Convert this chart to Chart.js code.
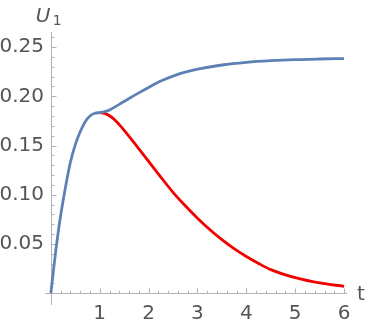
<!DOCTYPE html>
<html>
<head>
<meta charset="utf-8">
<script src="https://cdn.jsdelivr.net/npm/chart.js@4.4.1/dist/chart.umd.min.js"></script>
<style>
  html, body { margin: 0; padding: 0; background: #ffffff; }
  #wrap { position: relative; width: 366px; height: 326px; }
</style>
</head>
<body>
<div id="wrap"><canvas id="c" width="366" height="326"></canvas></div>
<script>
// ---- data ----
const blueT = [0, 0.05, 0.1, 0.15, 0.2, 0.3, 0.4, 0.5, 0.6, 0.7, 0.8, 0.9, 1.0, 1.1, 1.2, 1.4, 1.6, 1.8, 2.0, 2.25, 2.5, 2.75, 3.0, 3.5, 4.0, 4.5, 5.0, 5.5, 6.0];
const blueV = [0, 0.022, 0.043, 0.062, 0.079, 0.108, 0.133, 0.151, 0.164, 0.174, 0.180, 0.1828, 0.1835, 0.1845, 0.1862, 0.1918, 0.1978, 0.2035, 0.209, 0.2155, 0.2205, 0.2245, 0.2275, 0.2318, 0.2345, 0.2362, 0.2373, 0.2379, 0.2383];
const redT = [1.0, 1.1, 1.2, 1.3, 1.4, 1.5, 1.75, 2.0, 2.25, 2.5, 2.75, 3.0, 3.25, 3.5, 3.75, 4.0, 4.25, 4.5, 5.0, 5.5, 6.0];
const redV = [0.1835, 0.1827, 0.1803, 0.1765, 0.1712, 0.1655, 0.150, 0.134, 0.118, 0.1025, 0.0888, 0.0763, 0.0648, 0.0545, 0.0453, 0.0373, 0.0303, 0.0240, 0.0158, 0.0105, 0.0071];
const xTickValues = [1, 2, 3, 4, 5, 6];
const xTickLabels = ['1', '2', '3', '4', '5', '6'];
const yTickValues = [0.05, 0.10, 0.15, 0.20, 0.25];
const yTickLabels = ['0.05', '0.10', '0.15', '0.20', '0.25'];
const xLabel = 't';
const yLabel = 'U';
const yLabelSub = '1';

const toPts = (ts, vs) => ts.map((t, i) => ({ x: t, y: vs[i] }));

const AXIS_COLOR = '#b3b3b3';
const TEXT_COLOR = '#555555';
const FONT = 'DejaVu Sans';

const mmaAxes = {
  id: 'mmaAxes',
  beforeDatasetsDraw(chart) {
    const ctx = chart.ctx, xs = chart.scales.x, ys = chart.scales.y, a = chart.chartArea;
    const x0 = Math.round(xs.getPixelForValue(0)) + 0.5, y0 = Math.round(ys.getPixelForValue(0)) + 0.5;
    ctx.save();
    ctx.strokeStyle = AXIS_COLOR;
    ctx.lineWidth = 1;
    ctx.beginPath();
    ctx.moveTo(a.left, y0); ctx.lineTo(a.right, y0);
    ctx.moveTo(x0, a.top); ctx.lineTo(x0, a.bottom);
    // x ticks every 0.2, major at integers
    for (let k = 1; k <= 30; k++) {
      const v = k * 0.2;
      const px = Math.round(xs.getPixelForValue(v)) + 0.5;
      const len = (k % 5 === 0) ? 5 : 3;
      ctx.moveTo(px, y0); ctx.lineTo(px, y0 - len);
    }
    // y ticks every 0.01, major every 0.05
    for (let k = 1; k <= 26; k++) {
      const v = k * 0.01;
      const py = Math.round(ys.getPixelForValue(v)) + 0.5;
      const len = (k % 5 === 0) ? 5 : 3;
      ctx.moveTo(x0, py); ctx.lineTo(x0 + len, py);
    }
    ctx.stroke();
    ctx.restore();
  },
  afterDraw(chart) {
    const ctx = chart.ctx, xs = chart.scales.x, ys = chart.scales.y, a = chart.chartArea;
    const x0 = xs.getPixelForValue(0), y0 = ys.getPixelForValue(0);
    ctx.save();
    ctx.fillStyle = TEXT_COLOR;
    ctx.textBaseline = 'alphabetic';
    ctx.textAlign = 'left';
    ctx.font = 'italic 20px "' + FONT + '"';
    ctx.fillText(yLabel, x0 - 15, a.top - 10);
    ctx.font = '14px "' + FONT + '"';
    ctx.fillText(yLabelSub, x0 + 2, a.top - 7);
    ctx.font = '20px "' + FONT + '"';
    ctx.fillText(xLabel, a.right + 10, y0 + 7);
    ctx.restore();
  }
};

new Chart(document.getElementById('c'), {
  type: 'scatter',
  data: {
    datasets: [
      { data: toPts(blueT, blueV), showLine: true, borderColor: '#5E81B5', borderWidth: 2.8,
        pointRadius: 0, cubicInterpolationMode: 'monotone', fill: false },
      { data: toPts(redT, redV), showLine: true, borderColor: '#F20000', borderWidth: 2.8,
        pointRadius: 0, cubicInterpolationMode: 'monotone', fill: false }
    ]
  },
  plugins: [mmaAxes],
  options: {
    responsive: false,
    animation: false,
    devicePixelRatio: 1,
    layout: { padding: { top: 32, right: 19, left: 0, bottom: 0 } },
    plugins: { legend: { display: false }, tooltip: { enabled: false } },
    scales: {
      x: {
        type: 'linear', position: 'bottom', min: -0.12, max: 6.06,
        grid: { display: false, drawTicks: false }, border: { display: false },
        afterBuildTicks: s => { s.ticks = xTickValues.map(v => ({ value: v })); },
        afterFit: s => { s.height = 21; },
        ticks: {
          padding: -3, color: TEXT_COLOR, font: { family: FONT, size: 20 }, maxRotation: 0, autoSkip: false,
          callback: (v) => { const i = xTickValues.indexOf(v); return i >= 0 ? xTickLabels[i] : ''; }
        }
      },
      y: {
        type: 'linear', position: 'left', min: -0.0119, max: 0.2653,
        grid: { display: false, drawTicks: false }, border: { display: false },
        afterBuildTicks: s => { s.ticks = yTickValues.map(v => ({ value: v })); },
        afterFit: s => { s.width = 45; },
        ticks: {
          padding: 1, color: TEXT_COLOR, font: { family: FONT, size: 20 }, autoSkip: false,
          callback: (v) => { const i = yTickValues.findIndex(t => Math.abs(t - v) < 1e-9); return i >= 0 ? yTickLabels[i] : ''; }
        }
      }
    }
  }
});
</script>
</body>
</html>
